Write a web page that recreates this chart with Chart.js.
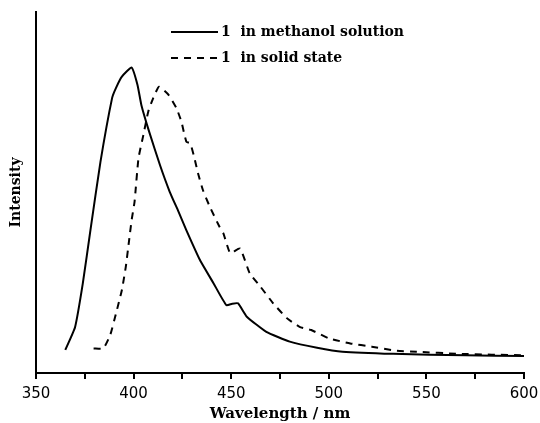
<!DOCTYPE html>
<html>
<head>
<meta charset="utf-8">
<script src="https://cdn.jsdelivr.net/npm/chart.js@4/dist/chart.umd.min.js"></script>
<style>
  body { margin: 0; background: #fff; }
</style>
</head>
<body>
<canvas id="chart" width="540" height="423"></canvas>
<script>
// emission spectra (arbitrary intensity units)
const solutionWavelength = [365, 370, 374, 378, 383, 389, 391, 394, 399, 402, 404, 408, 413.5, 418.5, 423, 427, 434, 441, 447.5, 450.5, 453.5, 458, 468, 480, 494, 507, 533, 570, 600];
const solutionIntensity = [6.4, 12.7, 24.9, 40, 58.4, 76.2, 79, 82.1, 84.6, 79.8, 74.2, 66.8, 57.6, 50.2, 44.7, 39.6, 31.3, 24.8, 18.8, 19.2, 19.3, 15.6, 11.4, 8.7, 7.0, 5.9, 5.3, 4.9, 4.7];

const solidWavelength = [379.5, 384.5, 388, 391, 394, 396, 397.5, 399, 400.5, 402.5, 405, 407.5, 410, 413, 418, 422, 424.5, 427, 429, 431, 433, 435.5, 439, 444, 446, 449.5, 454.5, 459.5, 465, 471.5, 478.5, 485, 491, 500, 511, 522, 534, 545, 567, 600];
const solidIntensity = [6.8, 6.8, 10.5, 16.5, 23, 29.4, 35.9, 42.4, 47.5, 59.5, 65.9, 72.4, 76.1, 79.3, 77, 73.3, 69.6, 64.1, 63.6, 59.9, 55.3, 50.7, 46.1, 40.5, 38.7, 33.2, 34.5, 27.6, 23.9, 19.3, 15.2, 12.8, 11.9, 9.6, 8.2, 7.3, 6.2, 5.9, 5.3, 4.9];

const seriesLabels = ["1  in methanol solution", "1  in solid state"];
const xTickLabels = [350, 400, 450, 500, 550, 600];

function toPoints(xs, ys) {
  return xs.map((x, i) => ({ x: x, y: ys[i] }));
}

// legend drawn inside the plot, like the original figure
const innerLegend = {
  id: "innerLegend",
  afterDraw(chart) {
    const ctx = chart.ctx;
    ctx.save();
    chart.data.datasets.forEach((ds, i) => {
      const y = 32 + i * 26;
      ctx.strokeStyle = ds.borderColor;
      ctx.lineWidth = ds.borderWidth;
      ctx.setLineDash(ds.borderDash || []);
      ctx.beginPath();
      ctx.moveTo(171, y);
      ctx.lineTo(218, y);
      ctx.stroke();
      ctx.setLineDash([]);
      ctx.fillStyle = "#000";
      ctx.font = "bold 14px 'DejaVu Serif'";
      ctx.textBaseline = "middle";
      ctx.fillText(ds.label, 221, y);
    });
    ctx.restore();
  },
};

const ctx = document.getElementById("chart").getContext("2d");
const myChart = new Chart(ctx, {
  type: "line",
  data: {
    datasets: [
      {
        label: seriesLabels[0],
        data: toPoints(solutionWavelength, solutionIntensity),
        borderColor: "#000",
        borderWidth: 2,
        tension: 0.15,
        pointRadius: 0,
        fill: false,
      },
      {
        label: seriesLabels[1],
        data: toPoints(solidWavelength, solidIntensity),
        borderColor: "#000",
        borderWidth: 2,
        borderDash: [7, 6],
        tension: 0.15,
        pointRadius: 0,
        fill: false,
      },
    ],
  },
  options: {
    responsive: false,
    animation: false,
    layout: { padding: { top: 12, right: 16 } },
    plugins: {
      legend: { display: false },
      tooltip: { enabled: false },
    },
    scales: {
      x: {
        type: "linear",
        min: 350,
        max: 600,
        afterFit: (axis) => {
          axis.height = 50;
          axis.paddingLeft = 0;
          axis.paddingRight = 0;
        },
        border: { display: true, color: "#000", width: 2 },
        grid: { drawOnChartArea: false, color: "#000", tickLength: 6, lineWidth: 2 },
        ticks: {
          stepSize: 25,
          color: "#000",
          padding: 6,
          maxRotation: 0,
          autoSkip: false,
          font: { family: "'DejaVu Sans'", size: 15 },
          callback: (v) => (xTickLabels.includes(v) ? String(v) : ""),
        },
        title: {
          display: true,
          text: "Wavelength / nm",
          color: "#000",
          padding: 0,
          font: { family: "'DejaVu Serif'", size: 15, weight: "bold" },
        },
      },
      y: {
        min: 0,
        max: 100,
        afterFit: (axis) => { axis.width = 36; },
        border: { display: true, color: "#000", width: 2 },
        grid: { display: false },
        ticks: { display: false },
        title: {
          display: true,
          text: "Intensity",
          color: "#000",
          padding: { top: 8, bottom: 0 },
          font: { family: "'DejaVu Serif'", size: 14, weight: "bold" },
        },
      },
    },
  },
  plugins: [innerLegend],
});
</script>
</body>
</html>
